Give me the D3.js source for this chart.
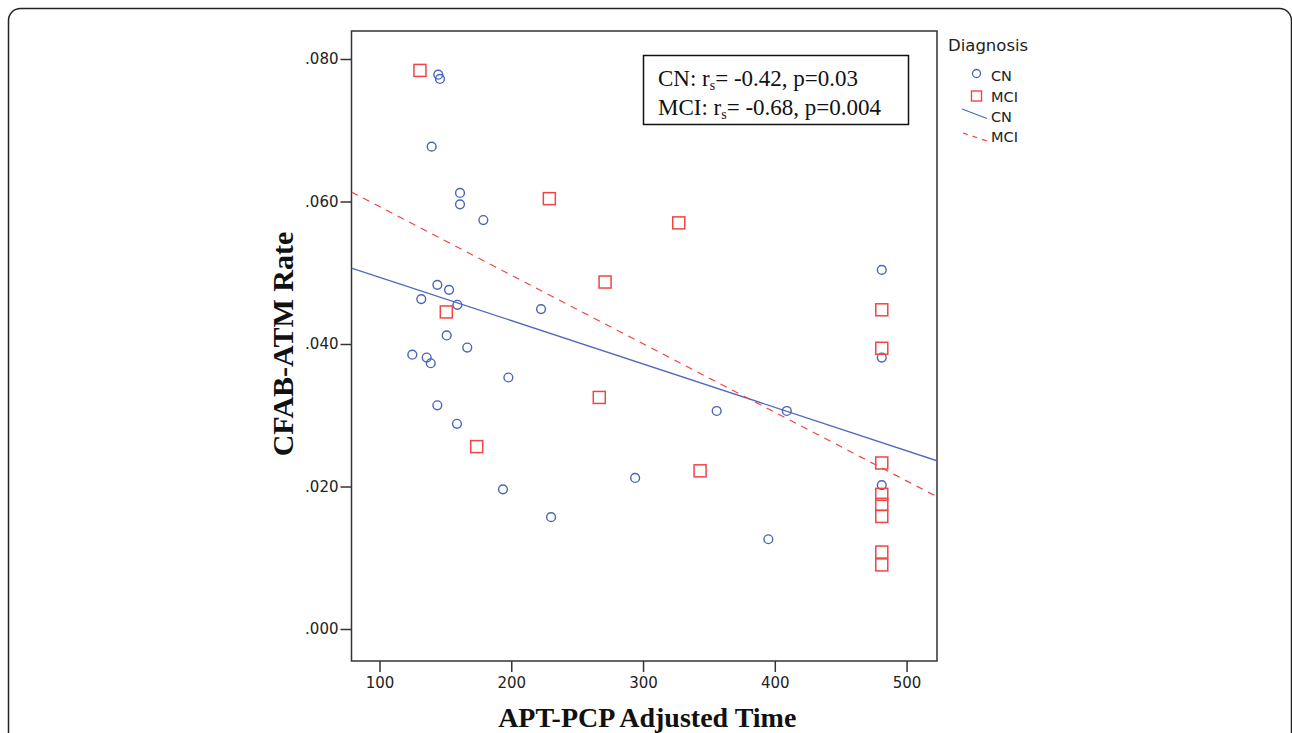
<!DOCTYPE html>
<html>
<head>
<meta charset="utf-8">
<script src="https://cdn.jsdelivr.net/npm/d3@7"></script>
<style>
  body { margin: 0; background: #fff; }
  svg { display: block; }
</style>
</head>
<body>
<svg></svg>
<script>
// datos

let cnTime = [144.6, 145.9, 139.6, 161.1, 161.1, 178.8, 143.9, 152.8, 131.7, 159.1, 222.6, 151.0, 166.6, 124.9,
  135.8, 138.9, 197.8, 143.9, 158.8, 193.7, 230.2, 294.0, 355.9, 409.1, 395.1, 481.2, 481.2, 481.2];
let cnRate = [0.0778, 0.0772, 0.0677, 0.0612, 0.0596, 0.0574, 0.0483, 0.0476, 0.0463, 0.0455, 0.0449, 0.0412, 0.0395, 0.0385,
  0.0381, 0.0373, 0.0353, 0.0314, 0.0288, 0.0196, 0.0157, 0.0212, 0.0306, 0.0306, 0.0126, 0.0504, 0.0381, 0.0202];

let mciTime = [130.7, 228.9, 327.1, 271.2, 150.7, 266.8, 173.8, 343.3, 481.2, 481.2, 481.2, 481.2, 481.2, 481.2, 481.2, 481.2];
let mciRate = [0.0784, 0.0604, 0.0570, 0.0487, 0.0445, 0.0325, 0.0256, 0.0222, 0.0448, 0.0394, 0.0233, 0.0189, 0.0175, 0.0158, 0.0108, 0.0090];

// lineas de ajuste (intercepto, pendiente)
let fitGroups = ["CN", "MCI"];
let fitIntercept = [0.05546, 0.06891];
let fitSlope = [-0.00006088, -0.00009623];

let xTicks = [100, 200, 300, 400, 500];
let yTicks = [0, 0.02, 0.04, 0.06, 0.08];

let statLines = [
  { grupo: "CN", rho: "-0.42", p: "0.03" },
  { grupo: "MCI", rho: "-0.68", p: "0.004" }
];

let svgWidth = 1292;
let svgHeight = 733;

let azul = "#4a64b8";
let rojo = "#ee4646";

let svg = d3.select("svg")
  .attr("width", svgWidth)
  .attr("height", svgHeight);

// marco redondeado de la pagina
svg.append("rect")
  .attr("x", 8.5).attr("y", 8.5)
  .attr("width", 1283).attr("height", 800)
  .attr("rx", 12)
  .attr("fill", "none")
  .attr("stroke", "#222")
  .attr("stroke-width", 1.5);

let plot = { left: 351.5, right: 937, top: 31, bottom: 661 };

let x = d3.scaleLinear().domain([78.75, 523.1]).range([plot.left, plot.right]);
let y = d3.scaleLinear().domain([-0.00449, 0.08393]).range([plot.bottom, plot.top]);

// ejes
let ejeX = svg.append("g")
  .attr("transform", "translate(0," + plot.bottom + ")")
  .call(d3.axisBottom(x).tickValues(xTicks).tickSize(11).tickPadding(5).tickFormat(d3.format("d")));

let ejeY = svg.append("g")
  .attr("transform", "translate(" + plot.left + ",0)")
  .call(d3.axisLeft(y).tickValues(yTicks).tickSize(11).tickPadding(2)
    .tickFormat(function(d) { return d3.format(".3f")(d).replace(/^0/, ""); }));

[ejeX, ejeY].forEach(function(g) {
  g.select(".domain").remove();
  g.selectAll(".tick line").attr("stroke", "#333").attr("stroke-width", 1.5);
  g.selectAll(".tick text")
    .attr("fill", "#222")
    .style("font-family", "DejaVu Sans")
    .style("font-size", "15px");
});

// caja del grafico
svg.append("rect")
  .attr("x", plot.left).attr("y", plot.top)
  .attr("width", plot.right - plot.left).attr("height", plot.bottom - plot.top)
  .attr("fill", "none")
  .attr("stroke", "#333")
  .attr("stroke-width", 1.5);

// lineas de ajuste
svg.append("clipPath").attr("id", "area")
  .append("rect")
  .attr("x", plot.left).attr("y", plot.top)
  .attr("width", plot.right - plot.left).attr("height", plot.bottom - plot.top);

let x0 = x.domain()[0], x1 = x.domain()[1];
svg.append("g").attr("clip-path", "url(#area)")
  .selectAll("line")
  .data(fitGroups)
  .enter()
  .append("line")
  .attr("x1", x(x0))
  .attr("x2", x(x1))
  .attr("y1", function(d, i) { return y(fitIntercept[i] + fitSlope[i] * x0); })
  .attr("y2", function(d, i) { return y(fitIntercept[i] + fitSlope[i] * x1); })
  .attr("stroke", function(d) { return d === "CN" ? "#5068bc" : rojo; })
  .attr("stroke-width", 1.3)
  .attr("stroke-dasharray", function(d) { return d === "CN" ? null : "7,6"; });

// puntos CN
svg.append("g").selectAll("circle")
  .data(d3.range(cnTime.length))
  .enter()
  .append("circle")
  .attr("cx", function(i) { return x(cnTime[i]); })
  .attr("cy", function(i) { return y(cnRate[i]); })
  .attr("r", 4.4)
  .attr("fill", "none")
  .attr("stroke", azul)
  .attr("stroke-width", 1.4);

// puntos MCI
let lado = 12;
svg.append("g").selectAll("rect")
  .data(d3.range(mciTime.length))
  .enter()
  .append("rect")
  .attr("x", function(i) { return x(mciTime[i]) - lado / 2; })
  .attr("y", function(i) { return y(mciRate[i]) - lado / 2; })
  .attr("width", lado)
  .attr("height", lado)
  .attr("fill", "none")
  .attr("stroke", rojo)
  .attr("stroke-width", 1.5);

// recuadro con estadisticos
svg.append("rect")
  .attr("x", 643.5).attr("y", 55.5)
  .attr("width", 265).attr("height", 69)
  .attr("fill", "#fff")
  .attr("stroke", "#111")
  .attr("stroke-width", 1.5);

let stat = svg.append("g")
  .style("font-family", "Liberation Serif")
  .style("font-size", "23px")
  .attr("fill", "#111");

statLines.forEach(function(s, i) {
  let t = stat.append("text").attr("x", 658).attr("y", 86 + i * 29);
  t.append("tspan").text(s.grupo + ": r");
  t.append("tspan").attr("dy", 4).style("font-size", "14px").text("s");
  t.append("tspan").attr("dy", -4).text("= " + s.rho + ", p=" + s.p);
});

// titulos de ejes
svg.append("text")
  .attr("x", (plot.left + plot.right) / 2 + 3)
  .attr("y", 727)
  .attr("text-anchor", "middle")
  .style("font-family", "Liberation Serif")
  .style("font-weight", "bold")
  .style("font-size", "28px")
  .attr("fill", "#111")
  .text("APT-PCP Adjusted Time");

svg.append("text")
  .attr("transform", "translate(293,344) rotate(-90)")
  .attr("text-anchor", "middle")
  .style("font-family", "Liberation Serif")
  .style("font-weight", "bold")
  .style("font-size", "30px")
  .attr("fill", "#111")
  .text("CFAB-ATM Rate");

// leyenda
let ley = svg.append("g")
  .style("font-family", "DejaVu Sans")
  .attr("fill", "#222");

ley.append("text").attr("x", 948).attr("y", 51).style("font-size", "16.5px").text("Diagnosis");

ley.append("circle").attr("cx", 976.5).attr("cy", 73.5).attr("r", 4)
  .attr("fill", "none").attr("stroke", azul).attr("stroke-width", 1.3);
ley.append("rect").attr("x", 971.5).attr("y", 91).attr("width", 10).attr("height", 10)
  .attr("fill", "none").attr("stroke", rojo).attr("stroke-width", 1.4);
ley.append("line").attr("x1", 962).attr("y1", 109).attr("x2", 987).attr("y2", 118.5)
  .attr("stroke", "#5068bc").attr("stroke-width", 1.3);
ley.append("line").attr("x1", 963).attr("y1", 133).attr("x2", 987).attr("y2", 141)
  .attr("stroke", rojo).attr("stroke-width", 1.3).attr("stroke-dasharray", "5,5");

let leyTextos = ["CN", "MCI", "CN", "MCI"];
let leyY = [81, 102, 122, 142];
ley.selectAll(".item")
  .data(leyTextos)
  .enter()
  .append("text")
  .attr("class", "item")
  .attr("x", 991)
  .attr("y", function(d, i) { return leyY[i]; })
  .style("font-size", "14.5px")
  .text(function(d) { return d; });
</script>
</body>
</html>
